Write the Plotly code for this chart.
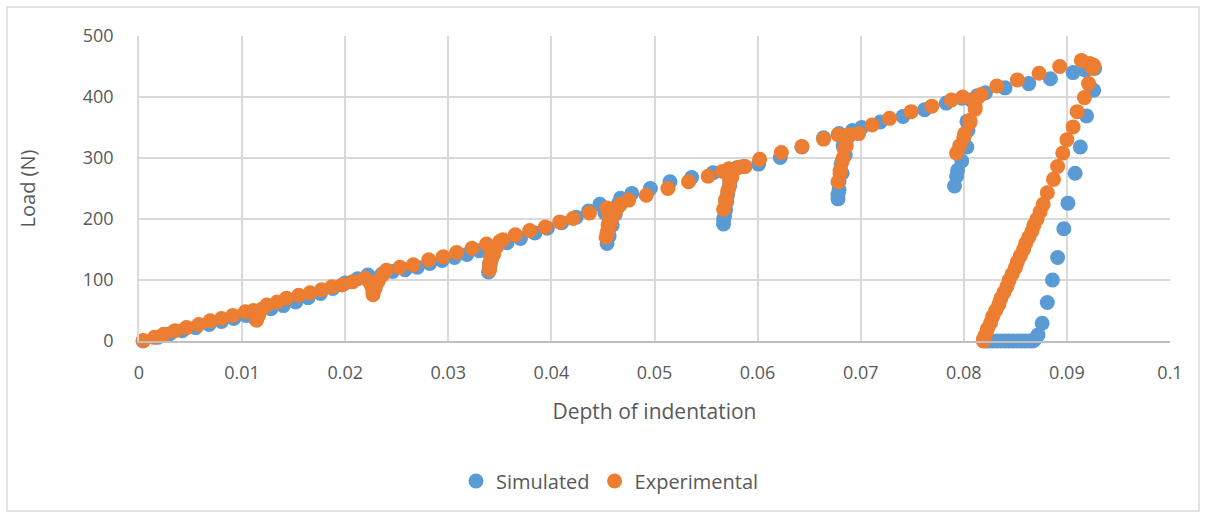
import plotly.graph_objects as go

# Simulated (depth, load)
sim_depth = [
    0.0004, 0.0018, 0.0030, 0.0042, 0.0055, 0.0068, 0.0080, 0.0092, 0.0104, 0.0114,
    0.0113, 0.0113, 0.0114, 0.0116, 0.0118,
    0.0128, 0.0140, 0.0152, 0.0164, 0.0176, 0.0188, 0.0200, 0.0212, 0.0222,
    0.0227, 0.0228, 0.0229, 0.0230, 0.0233, 0.0236,
    0.0246, 0.0258, 0.0270, 0.0282, 0.0294, 0.0306, 0.0318, 0.0330, 0.0338,
    0.0341, 0.0340, 0.0340, 0.0339, 0.0340, 0.0342, 0.0344, 0.0347,
    0.0357, 0.0370, 0.0384, 0.0396, 0.0410, 0.0424, 0.0436, 0.0447,
    0.0452, 0.0456, 0.0455, 0.0454, 0.0454, 0.0456, 0.0459, 0.0462, 0.0465, 0.0467,
    0.0478, 0.0496, 0.0515, 0.0536, 0.0557, 0.0572,
    0.0573, 0.0571, 0.0569, 0.0567, 0.0567, 0.0568, 0.0570, 0.0573, 0.0576, 0.0580,
    0.0586, 0.0601, 0.0622, 0.0643, 0.0664, 0.0679,
    0.0683, 0.0681, 0.0679, 0.0678, 0.0678, 0.0679, 0.0682, 0.0685, 0.0688, 0.0692,
    0.0701, 0.0719, 0.0741, 0.0762, 0.0783, 0.0798,
    0.0804, 0.0803, 0.0798, 0.0793, 0.0791, 0.0794, 0.0799, 0.0803, 0.0807, 0.0813,
    0.0821, 0.0840, 0.0863, 0.0884, 0.0906, 0.0918, 0.0927,
    0.0926, 0.0919, 0.0913, 0.0908, 0.0901, 0.0897, 0.0891, 0.0886, 0.0881, 0.0876,
    0.0872, 0.0869, 0.0867,
    0.0864, 0.0860, 0.0856, 0.0852, 0.0848, 0.0844, 0.0840, 0.0836, 0.0832, 0.0828,
    0.0824, 0.0821,
]
sim_load = [
    0, 6, 12, 17, 22, 27, 32, 37, 42, 46,
    40, 36, 40, 46, 50,
    53, 58, 64, 71, 78, 86, 95, 102, 108,
    100, 92, 88, 95, 105, 110,
    114, 117, 121, 127, 132, 137, 142, 148, 155,
    140, 127, 118, 113, 121, 135, 148, 155,
    161, 168, 177, 185, 194, 203, 213, 224,
    210, 195, 180, 168, 160, 172, 190, 208, 225, 234,
    242, 250, 261, 268, 276, 282,
    265, 240, 215, 200, 192, 205, 228, 255, 280, 284,
    286, 290, 301, 318, 333, 340,
    320, 290, 262, 240, 233, 248, 275, 305, 335, 345,
    350, 359, 368, 379, 390, 398,
    345, 318, 295, 270, 254, 280, 320, 360, 395, 402,
    407, 415, 422, 430, 440, 444, 447,
    411, 369, 318, 275, 226, 184, 137, 100, 63, 29,
    10, 3, 0,
    0, 0, 0, 0, 0, 0, 0, 0, 0, 0,
    0, 0,
]

# Experimental (depth, load)
exp_depth = [
    0.0004, 0.0015, 0.0024, 0.0035, 0.0046, 0.0058, 0.0069, 0.0080, 0.0091, 0.0103, 0.0111,
    0.0113, 0.0114, 0.0114, 0.0116, 0.0119, 0.0124,
    0.0134, 0.0143, 0.0155, 0.0166, 0.0177, 0.0187, 0.0197, 0.0207, 0.0219,
    0.0224, 0.0226, 0.0227, 0.0227, 0.0229, 0.0232, 0.0236, 0.0240,
    0.0253, 0.0266, 0.0281, 0.0295, 0.0308, 0.0323, 0.0337,
    0.0342, 0.0341, 0.0340, 0.0340, 0.0341, 0.0344, 0.0347, 0.0350,
    0.0353, 0.0365, 0.0379, 0.0394, 0.0408, 0.0421, 0.0437,
    0.0454, 0.0456, 0.0455, 0.0454, 0.0453, 0.0455, 0.0458, 0.0461, 0.0464, 0.0467,
    0.0475, 0.0492, 0.0513, 0.0533, 0.0552, 0.0566,
    0.0572, 0.0573, 0.0571, 0.0569, 0.0567, 0.0569, 0.0572, 0.0575, 0.0578, 0.0582,
    0.0588, 0.0602, 0.0623, 0.0643, 0.0664, 0.0678,
    0.0685, 0.0684, 0.0682, 0.0680, 0.0678, 0.0680, 0.0683, 0.0686, 0.0689, 0.0698,
    0.0711, 0.0728, 0.0749, 0.0769, 0.0788, 0.0799,
    0.0810, 0.0811, 0.0806, 0.0800, 0.0793, 0.0796, 0.0801, 0.0806, 0.0811, 0.0814,
    0.0817, 0.0832, 0.0852, 0.0873, 0.0893, 0.0914,
    0.0922, 0.0926, 0.0925, 0.0921, 0.0917, 0.0910, 0.0906, 0.0900, 0.0896, 0.0891,
    0.0887, 0.0881, 0.0877,
    0.0874, 0.0871, 0.0868, 0.0866, 0.0863, 0.0860, 0.0858, 0.0855, 0.0852, 0.0850,
    0.0847, 0.0844, 0.0842, 0.0839, 0.0836, 0.0834, 0.0831, 0.0828, 0.0826, 0.0823,
    0.0821, 0.0819, 0.0819,
]
exp_load = [
    1, 6, 11, 17, 22, 27, 33, 37, 42, 48, 50,
    44, 38, 34, 42, 52, 59,
    64, 70, 75, 79, 84, 89, 92, 97, 103,
    96, 88, 80, 76, 86, 98, 108, 116,
    121, 125, 133, 138, 145, 152, 159,
    150, 138, 126, 117, 128, 142, 155, 163,
    166, 174, 181, 187, 195, 201, 210,
    218, 205, 190, 178, 170, 180, 195, 208, 218, 224,
    231, 239, 250, 261, 270, 278,
    282, 262, 245, 228, 216, 232, 250, 268, 282, 285,
    286, 298, 309, 319, 331, 338,
    336, 315, 295, 275, 261, 280, 300, 320, 338, 340,
    354, 365, 376, 385, 395, 400,
    395, 380, 358, 334, 308, 320, 340, 362, 385, 400,
    404, 418, 428, 439, 450, 460,
    455, 452, 447, 422, 399, 376, 351, 330, 308, 286,
    265, 243, 224,
    212, 200, 190, 180, 170, 160, 150, 140, 130, 120,
    110, 100, 90, 80, 70, 60, 50, 40, 30, 20,
    10, 3, 0,
]

x_ticks = [0, 0.01, 0.02, 0.03, 0.04, 0.05, 0.06, 0.07, 0.08, 0.09, 0.1]
x_tick_text = ["0", "0.01", "0.02", "0.03", "0.04", "0.05", "0.06", "0.07", "0.08", "0.09", "0.1"]
y_ticks = [0, 100, 200, 300, 400, 500]

FONT = "Open Sans"
TXT = "#595959"

fig = go.Figure()
fig.add_trace(go.Scatter(
    x=sim_depth, y=sim_load, mode="markers", name="Simulated",
    marker=dict(color="#5B9BD5", size=15, line=dict(width=0)), cliponaxis=False,
))
fig.add_trace(go.Scatter(
    x=exp_depth, y=exp_load, mode="markers", name="Experimental",
    marker=dict(color="#ED7D31", size=15, line=dict(width=0)), cliponaxis=False,
))

L, R, T, B = 139, 1170, 36, 341
W, H = 1206, 518

def px2paper_x(px):
    return (px - L) / (R - L)

def px2paper_y(py):
    return (B - py) / (B - T)

fig.update_layout(
    width=W, height=H,
    margin=dict(l=L, r=W - R, t=T, b=H - B),
    paper_bgcolor="white", plot_bgcolor="white",
    font=dict(family=FONT, color=TXT, size=18),
    showlegend=True,
    legend=dict(
        orientation="h", x=px2paper_x(610), xanchor="center",
        y=px2paper_y(481), yanchor="middle",
        font=dict(family=FONT, size=20, color=TXT),
        traceorder="normal",
    ),
    xaxis=dict(
        range=[0, 0.1], tickvals=x_ticks, ticktext=x_tick_text,
        showgrid=True, gridcolor="#D9D9D9", gridwidth=1.5,
        zeroline=False, showline=True, linecolor="#BFBFBF", linewidth=2,
        ticks="", ticklabelstandoff=14,
        tickfont=dict(family=FONT, size=18, color=TXT),
        title=dict(text="Depth of indentation", font=dict(family=FONT, size=21, color=TXT), standoff=22),
    ),
    yaxis=dict(
        range=[0, 500], tickvals=y_ticks,
        showgrid=True, gridcolor="#D9D9D9", gridwidth=1.5,
        zeroline=False, showline=True, linecolor="#D9D9D9", linewidth=1.5,
        ticks="", ticklabelstandoff=20,
        tickfont=dict(family=FONT, size=18, color=TXT),
        title=dict(text="Load (N)", font=dict(family=FONT, size=20, color=TXT), standoff=42),
    ),
    shapes=[dict(
        type="rect", xref="paper", yref="paper",
        x0=px2paper_x(7), x1=px2paper_x(1199),
        y0=px2paper_y(511), y1=px2paper_y(7),
        line=dict(color="#D9D9D9", width=1.5), fillcolor="rgba(0,0,0,0)", layer="below",
    )],
)

fig.write_html(
    "out.html",
    config={"displayModeBar": False},
    post_script="document.body.style.margin='0';document.body.style.overflow='hidden';",
)
